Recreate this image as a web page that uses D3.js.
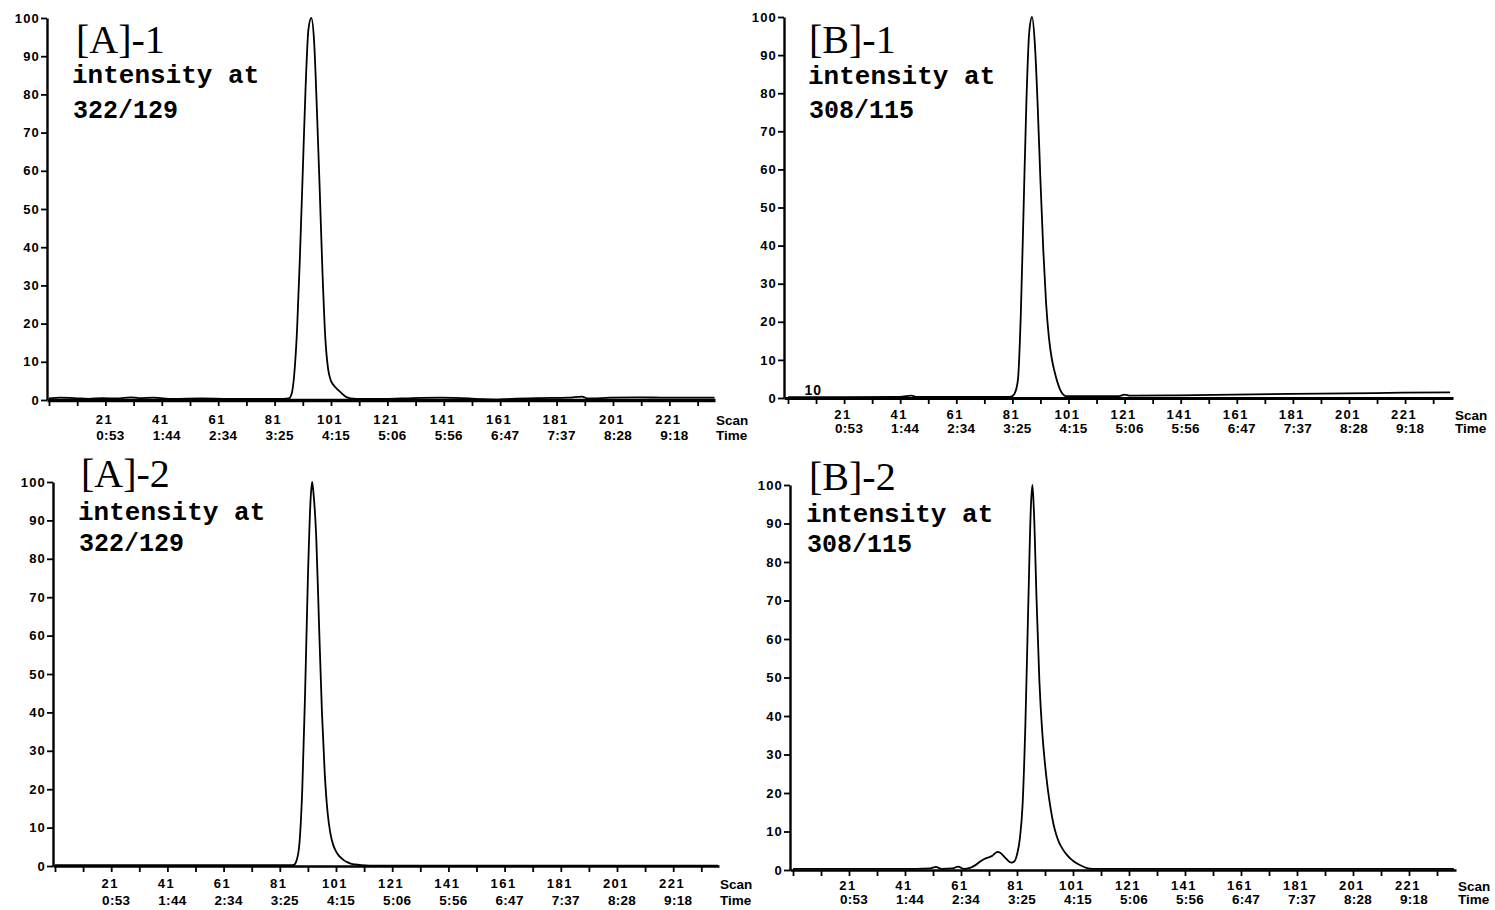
<!DOCTYPE html>
<html><head><meta charset="utf-8">
<script src="https://cdn.jsdelivr.net/npm/d3@7"></script>
<style>body{margin:0;background:#fff}</style>
</head><body>
<svg id="c" width="1495" height="910"></svg>
<script>
// ---------- data ----------
const panelTitles = ["[A]-1", "[B]-1", "[A]-2", "[B]-2"];
const ionLabels = ["322/129", "308/115", "322/129", "308/115"];
const yTicks = [0, 10, 20, 30, 40, 50, 60, 70, 80, 90, 100];
const scanTicks = [1, 11, 21, 31, 41, 51, 61, 71, 81, 91, 101, 111, 121, 131, 141, 151, 161, 171, 181, 191, 201, 211, 221, 231];
const scanLabels = [21, 41, 61, 81, 101, 121, 141, 161, 181, 201, 221];
const timeLabels = ["0:53", "1:44", "2:34", "3:25", "4:15", "5:06", "5:56", "6:47", "7:37", "8:28", "9:18"];

const a1Scan = [1, 5, 10, 15, 20, 25, 30, 33, 38, 45, 55, 65, 75, 84, 86, 87, 88, 89, 90, 91, 92, 93, 94, 95, 96, 97, 98, 99, 100, 101, 102, 103, 104, 105, 106, 107, 108, 110, 120, 130, 140, 150, 155, 160, 165, 175, 185, 190, 192, 200, 210, 220, 230, 237];
const a1Int  = [0.4, 0.6, 0.5, 0.3, 0.5, 0.4, 0.7, 0.5, 0.6, 0.3, 0.4, 0.3, 0.3, 0.3, 0.4, 1.5, 7, 19, 38, 60, 82, 97, 100, 94, 76, 55, 33, 16, 8, 5, 3.8, 3, 2.3, 1.6, 1, 0.6, 0.4, 0.3, 0.3, 0.5, 0.6, 0.4, 0.2, 0.1, 0.3, 0.5, 0.6, 0.9, 0.4, 0.6, 0.7, 0.6, 0.6, 0.6];

const b1Scan = [1, 20, 40, 45, 47, 60, 80, 81, 82, 83, 84, 85, 86, 87, 88, 89, 90, 91, 92, 93, 94, 95, 96, 97, 98, 99, 100, 119, 121, 123, 140, 160, 180, 200, 220, 237];
const b1Int  = [0.2, 0.2, 0.3, 0.6, 0.3, 0.3, 0.3, 0.5, 1.5, 5, 22, 50, 78, 96, 100, 93, 77, 57, 39, 25, 16, 10.5, 7, 4.3, 2.2, 1, 0.5, 0.5, 0.9, 0.6, 0.7, 0.9, 1.1, 1.2, 1.4, 1.5];

const a2Scan = [1, 30, 60, 85, 86, 87, 88, 89, 90, 91, 92, 92.5, 93, 94, 95, 96, 97, 98, 99, 100, 101, 102, 103, 104, 105, 106, 107, 108, 110, 113, 140, 180, 237];
const a2Int  = [0.2, 0.2, 0.2, 0.2, 0.3, 1.5, 6, 20, 45, 75, 96, 100, 97, 85, 62, 40, 24, 14, 8.5, 5.5, 3.8, 2.7, 2, 1.4, 1, 0.7, 0.5, 0.4, 0.2, 0.1, 0.1, 0.1, 0.1];

const b2Scan = [1, 20, 45, 50, 52, 54, 58, 60, 62, 64, 66, 68, 70, 72, 74, 75, 77, 79, 80, 81, 82, 83, 84, 85, 86, 86.5, 87, 88, 89, 90, 91, 92, 93, 94, 95, 96, 97, 98, 99, 100, 101, 102, 104, 106, 108, 150, 237];
const b2Int  = [0.3, 0.3, 0.3, 0.4, 0.8, 0.3, 0.4, 0.9, 0.3, 0.5, 1.2, 2.3, 3.1, 3.6, 4.7, 4.5, 3, 1.9, 2.2, 4, 8, 17, 38, 68, 95, 100, 94, 70, 49, 36, 27.5, 21, 16, 12, 9.2, 7.2, 5.8, 4.7, 3.8, 3, 2.4, 1.9, 1.1, 0.5, 0.3, 0.3, 0.3];

const seriesScans = [a1Scan, b1Scan, a2Scan, b2Scan];
const seriesInts = [a1Int, b1Int, a2Int, b2Int];

// ---------- layout ----------
const layout = [
  {ax: 47,  s1: 49,  sp: 2.82,  xEnd: 715,  y0: 400, y100: 18,  so: 19, to: 35, sx: 716,  titleX: 76,  titleY: 53,  intY: 83,  ionY: 118, intX: 72,  aw: 3.4},
  {ax: 784, s1: 788, sp: 2.805, xEnd: 1453, y0: 398, y100: 17,  so: 16, to: 30, sx: 1455, titleX: 809, titleY: 53,  intY: 84,  ionY: 118, intX: 808, aw: 3.2},
  {ax: 53,  s1: 55,  sp: 2.81,  xEnd: 719,  y0: 866, y100: 482, so: 17, to: 34, sx: 720,  titleX: 81,  titleY: 487, intY: 520, ionY: 551, intX: 78,  aw: 2.6},
  {ax: 790, s1: 793, sp: 2.80,  xEnd: 1456, y0: 870, y100: 485, so: 15, to: 29, sx: 1458, titleX: 809, titleY: 490, intY: 522, ionY: 552, intX: 806, aw: 2.6}
];

const svg = d3.select("#c");
svg.append("rect").attr("width", 1495).attr("height", 910).attr("fill", "#fff");

const sans = "'Liberation Sans', Arial, sans-serif";

layout.forEach((L, i) => {
  const base = d3.scaleLinear().domain([1, 221]).range([L.s1, L.s1 + 220 * L.sp]);
  const x = d3.scaleLinear().domain([base.invert(L.ax), base.invert(L.xEnd)]).range([L.ax, L.xEnd]);
  const y = d3.scaleLinear().domain([0, 100]).range([L.y0, L.y100]);
  const g = svg.append("g");

  // x axis
  const xa = g.append("g").attr("transform", `translate(0,${L.y0})`)
    .call(d3.axisBottom(x).tickValues(scanTicks).tickSize(6).tickSizeOuter(0).tickFormat(""));
  xa.select(".domain").attr("stroke", "#000").attr("stroke-width", L.aw);
  xa.selectAll(".tick line").attr("stroke", "#000").attr("stroke-width", 1.8);

  // data line
  const pts = seriesScans[i].map((s, k) => [s, seriesInts[i][k]]);
  g.append("path").datum(pts)
    .attr("fill", "none").attr("stroke", "#000").attr("stroke-width", 1.8)
    .attr("stroke-linejoin", "round")
    .attr("d", d3.line().x(d => x(d[0])).y(d => y(d[1])).curve(d3.curveMonotoneX));

  // y axis
  const ya = g.append("g").attr("transform", `translate(${L.ax},0)`)
    .call(d3.axisLeft(y).tickValues(yTicks).tickSize(6).tickSizeOuter(0).tickPadding(1));
  ya.select(".domain").attr("stroke", "#000").attr("stroke-width", 2.4);
  ya.selectAll(".tick line").attr("stroke", "#000").attr("stroke-width", 1.8);
  ya.selectAll(".tick text").attr("font-family", sans).attr("font-weight", "bold")
    .attr("font-size", 13).attr("letter-spacing", "1.2px").attr("fill", "#000");

  // scan labels and time labels
  g.selectAll(".sl").data(scanLabels).join("text")
    .attr("x", d => x(d) - 1).attr("y", L.y0 + L.so)
    .attr("dy", "0.35em").attr("text-anchor", "middle")
    .attr("font-family", sans).attr("font-weight", "bold").attr("font-size", 13)
    .attr("letter-spacing", "1.5px").text(d => d);
  g.selectAll(".tl").data(timeLabels).join("text")
    .attr("x", (d, k) => x(scanLabels[k]) + 5).attr("y", L.y0 + L.to)
    .attr("dy", "0.35em").attr("text-anchor", "middle")
    .attr("font-family", sans).attr("font-weight", "bold").attr("font-size", 13.5)
    .attr("letter-spacing", "0.3px").text(d => d);
  g.append("text").attr("x", L.sx).attr("y", L.y0 + L.so + 1).attr("dy", "0.35em")
    .attr("font-family", sans).attr("font-weight", "bold").attr("font-size", 13.5)
    .text("Scan");
  g.append("text").attr("x", L.sx).attr("y", L.y0 + L.to).attr("dy", "0.35em")
    .attr("font-family", sans).attr("font-weight", "bold").attr("font-size", 13.5)
    .text("Time");

  // titles
  g.append("text").attr("x", L.titleX).attr("y", L.titleY)
    .attr("font-family", "'Liberation Serif', 'Times New Roman', serif")
    .attr("font-size", 40).text(panelTitles[i]);
  g.append("text").attr("x", L.intX).attr("y", L.intY)
    .attr("font-family", "'Liberation Mono', 'Courier New', monospace")
    .attr("font-weight", "bold").attr("font-size", 26).text("intensity at");
  g.append("text").attr("x", L.intX + 1).attr("y", L.ionY)
    .attr("font-family", "'Liberation Mono', 'Courier New', monospace")
    .attr("font-weight", "bold").attr("font-size", 25).text(ionLabels[i]);

  // scan-number annotation in B-1
  if (i === 1) {
    g.append("text").attr("x", x(10)).attr("y", L.y0 - 3).attr("text-anchor", "middle")
      .attr("font-family", sans).attr("font-weight", "bold").attr("font-size", 14)
      .attr("letter-spacing", "1px").text(10);
  }
});
</script>
</body></html>
